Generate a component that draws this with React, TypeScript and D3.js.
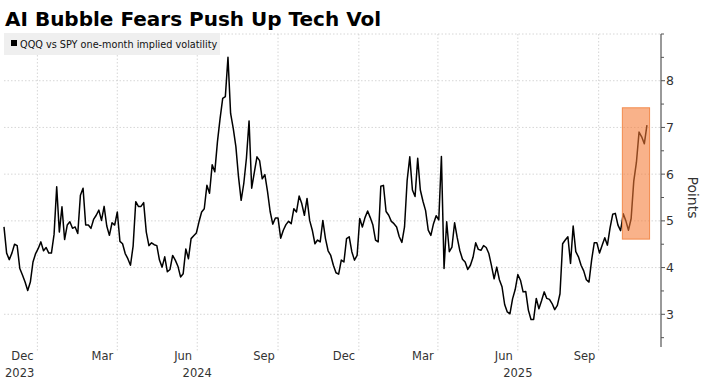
import React from "react";
import * as d3 from "d3";

// ---- Data (QQQ vs SPY one-month implied volatility spread, sampled every 3 days) ----
const seriesStart = "2023-11-24";
const sampleStepDays = 3;
const values: number[] = [
  4.87, 4.31, 4.17, 4.31, 4.50, 4.47, 3.98, 3.84, 3.69, 3.51, 3.69, 4.12, 4.30, 4.41, 4.55, 4.36, 4.43, 4.31, 4.31, 4.71,
  5.73, 4.76, 5.30, 4.60, 4.91, 4.98, 4.84, 4.87, 4.73, 5.55, 5.70, 4.91, 4.91, 4.84, 5.03, 5.12, 5.23,
  5.01, 5.31, 4.89, 4.69, 4.96, 4.91, 5.19, 4.56, 4.51, 4.30, 4.19, 4.05, 4.46, 5.41, 5.31, 5.31, 5.39, 4.76, 4.47,
  4.53, 4.49, 4.47, 4.16, 4.01, 4.23, 3.91, 3.96, 4.26, 4.16, 4.03, 3.80, 3.87, 4.40, 4.19, 4.62, 4.68,
  4.74, 4.98, 5.19, 5.26, 5.76, 5.59, 6.20, 6.05, 6.69, 7.19, 7.62, 7.66, 8.50, 7.30, 6.98, 6.59, 5.94, 5.44,
  5.80, 6.34, 7.14, 5.70, 6.04, 6.37, 6.29, 5.90, 5.99, 5.63, 5.20, 4.93, 5.06, 5.06, 4.63, 4.80, 4.92, 4.99,
  4.94, 5.26, 5.19, 5.53, 5.37, 5.12, 5.48, 5.01, 4.80, 4.51, 4.59, 4.55, 5.01, 4.62, 4.36, 4.26, 4.05, 3.89,
  3.86, 4.16, 4.12, 4.62, 4.66, 4.34, 4.16, 4.26, 5.05, 4.87, 5.07, 5.21, 5.07, 4.91, 4.59, 4.55, 5.74, 5.76,
  5.20, 5.12, 4.99, 4.94, 4.87, 4.66, 4.54, 4.87, 5.87, 6.37, 5.66, 5.52, 6.34, 5.66, 5.42, 5.22, 4.80, 4.69,
  4.94, 5.11, 5.02, 6.38, 3.98, 4.98, 4.34, 4.44, 4.96, 4.64, 4.36, 4.18, 4.12, 3.96, 4.05, 4.22, 4.53, 4.39,
  4.37, 4.47, 4.43, 4.30, 4.04, 3.76, 4.01, 3.74, 3.59, 3.21, 3.05, 3.01, 3.33, 3.53, 3.85, 3.73, 3.48, 3.49,
  3.09, 2.89, 2.89, 3.34, 3.12, 3.29, 3.48, 3.34, 3.32, 3.23, 3.10, 3.19, 3.44, 4.51, 4.59, 4.66, 4.09, 4.89,
  4.34, 4.23, 4.05, 3.93, 3.74, 3.69, 4.16, 4.53, 4.53, 4.31, 4.48, 4.64, 4.48, 4.85, 5.14, 5.16, 4.91, 4.79,
  5.15, 5.00, 4.80, 5.05, 5.85, 6.25, 6.90, 6.80, 6.65, 7.05,
];

const yTicks = [3, 4, 5, 6, 7, 8];
const monthLabels = ["Dec", "Mar", "Jun", "Sep", "Dec", "Mar", "Jun", "Sep"];
const monthLabelDates = [
  "2023-12-15", "2024-03-15", "2024-06-15", "2024-09-15",
  "2024-12-15", "2025-03-15", "2025-06-15", "2025-09-15",
];
const gridDates = [
  "2024-01-01", "2024-04-01", "2024-07-01", "2024-10-01",
  "2025-01-01", "2025-04-01", "2025-07-01", "2025-10-01",
];
const yearLabels = ["2023", "2024", "2025"];
const yearLabelDates = ["2023-11-24", "2024-07-01", "2025-07-01"];
const highlightDates = ["2025-10-28", "2025-11-28"];
const highlightValues = [4.61, 7.42];

const title = "AI Bubble Fears Push Up Tech Vol";
const legendText = "QQQ vs SPY one-month implied volatility";
const axisTitle = "Points";

const W = 706;
const H = 379;
const FONT = "'DejaVu Sans', Verdana, sans-serif";

const parse = (s: string) => new Date(s + "T00:00:00Z");

export default function App() {
  const start = parse(seriesStart);
  const data = values.map((v, i) => ({ date: d3.utcDay.offset(start, i * sampleStepDays), value: v }));

  const x = d3.scaleUtc().domain([start, parse("2025-12-11")]).range([4, 661]);
  const y = d3.scaleLinear().domain([2.3, 9.0]).range([347, 34]);

  const line = d3
    .line<{ date: Date; value: number }>()
    .x((d) => x(d.date))
    .y((d) => y(d.value));

  const minorTicks = d3.range(2.5, 9.01, 0.5).filter((t) => !yTicks.includes(t));

  const hx0 = x(parse(highlightDates[0]));
  const hx1 = x(parse(highlightDates[1]));
  const hy0 = y(highlightValues[1]);
  const hy1 = y(highlightValues[0]);

  return (
    <svg
      width={W}
      height={H}
      style={{ position: "absolute", left: 0, top: 0, background: "#fff" }}
      fontFamily={FONT}
    >
      <rect x={0} y={0} width={W} height={H} fill="#fff" />
      {/* Title */}
      <text x={5} y={26} fontSize={20} fontWeight="bold" fill="#000">
        {title}
      </text>

      {/* Horizontal gridlines */}
      {[...yTicks, 9].map((t) => (
        <line
          key={"hg" + t}
          x1={4}
          x2={661}
          y1={y(t)}
          y2={y(t)}
          stroke="#cccccc"
          strokeWidth={0.8}
          strokeDasharray="1.5,2"
        />
      ))}
      {/* Vertical gridlines */}
      {gridDates.map((d) => (
        <line
          key={"vg" + d}
          x1={x(parse(d))}
          x2={x(parse(d))}
          y1={34}
          y2={352}
          stroke="#cccccc"
          strokeWidth={0.8}
          strokeDasharray="1.5,2"
        />
      ))}

      {/* Legend */}
      <rect x={4} y={33} width={216} height={22} fill="#efefef" />
      <rect x={11} y={40} width={6} height={6} fill="#000" />
      <text x={20} y={47.5} fontSize={9.7} fill="#111">
        {legendText}
      </text>

      {/* Data line */}
      <path d={line(data) || ""} fill="none" stroke="#000" strokeWidth={1.5} strokeLinejoin="round" />

      {/* Highlight box */}
      <rect
        x={hx0}
        y={hy0}
        width={hx1 - hx0}
        height={hy1 - hy0}
        fill="#f47b35"
        fillOpacity={0.58}
        stroke="#f28a4c"
        strokeWidth={1}
      />

      {/* Right axis */}
      <line x1={661} x2={661} y1={34} y2={347} stroke="#777" strokeWidth={1.5} />
      {yTicks.map((t) => (
        <g key={"yt" + t}>
          <line x1={661} x2={665} y1={y(t)} y2={y(t)} stroke="#555" strokeWidth={1} />
          <text x={666} y={y(t) + 4.5} fontSize={12.5} fill="#333">
            {t}
          </text>
        </g>
      ))}
      {minorTicks.map((t) => (
        <line key={"mt" + t} x1={661} x2={664} y1={y(t)} y2={y(t)} stroke="#555" strokeWidth={1} />
      ))}
      <text
        transform={`translate(688, ${y(5.5)}) rotate(90)`}
        textAnchor="middle"
        fontSize={14}
        fill="#333"
      >
        {axisTitle}
      </text>

      {/* X axis labels */}
      {monthLabels.map((m, i) => (
        <text
          key={"ml" + i}
          x={x(parse(monthLabelDates[i]))}
          y={360}
          textAnchor="middle"
          fontSize={11.5}
          fill="#333"
        >
          {m}
        </text>
      ))}
      {yearLabels.map((yl, i) => (
        <text
          key={"yl" + i}
          x={i === 0 ? 5 : x(parse(yearLabelDates[i]))}
          y={377}
          textAnchor={i === 0 ? "start" : "middle"}
          fontSize={11.5}
          fill="#333"
        >
          {yl}
        </text>
      ))}
    </svg>
  );
}
